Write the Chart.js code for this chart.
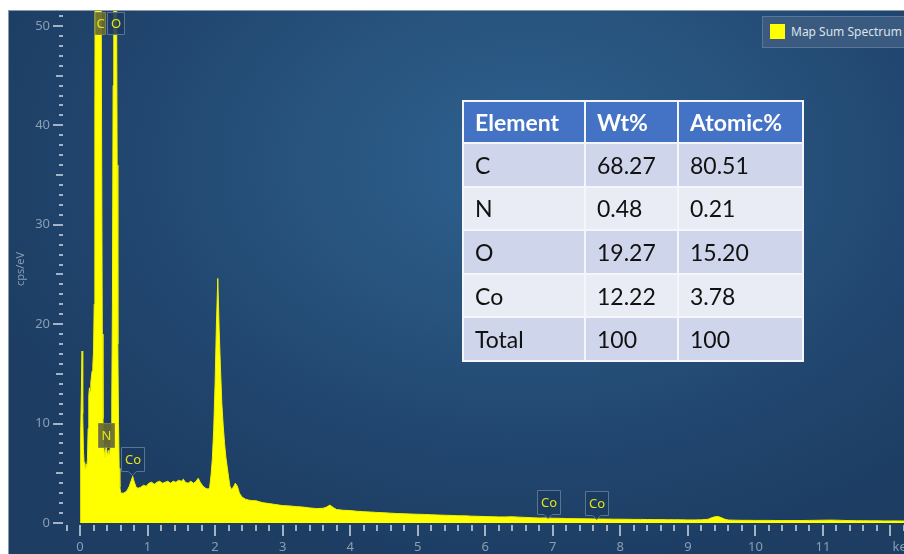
<!DOCTYPE html>
<html>
<head>
  <title>Map Sum Spectrum</title>
  <script src="https://cdn.jsdelivr.net/npm/chart.js"></script>
  <style>
    body {
      margin: 0;
      width: 904px;
      height: 554px;
      overflow: hidden;
      position: relative;
      background: #fff;
      font-family: 'Noto Sans', sans-serif;
    }
    #panel {
      position: absolute;
      left: 8px;
      top: 10px;
      width: 896px;
      height: 544px;
      box-sizing: border-box;
      border-left: 1px solid #8a9aae;
      border-top: 1px solid #8a9aae;
      background: radial-gradient(ellipse 65% 75% at 58% 28%, #2e6090 0%, #28557f 35%, #21466f 70%, #1d3d63 100%);
    }
    #spectrum {
      position: absolute;
      left: 0;
      top: 0;
    }
    .legend {
      position: absolute;
      left: 762px;
      top: 16px;
      width: 150px;
      height: 32px;
      box-sizing: border-box;
      background: #3a5b7f;
      border: 1px solid #58779a;
      color: #dce3eb;
      font-size: 12px;
    }
    .legend .swatch {
      position: absolute;
      left: 7px;
      top: 7px;
      width: 15px;
      height: 15px;
    }
    .legend .name {
      position: absolute;
      left: 28px;
      top: 7px;
      line-height: 16px;
      white-space: nowrap;
    }
    #composition {
      position: absolute;
      left: 462px;
      top: 100px;
      width: 340px;
      table-layout: fixed;
      border-collapse: collapse;
      font-family: Lato, sans-serif;
      font-size: 23px;
      color: #111;
    }
    #composition th, #composition td {
      border: 2px solid #f4f6fb;
      padding: 0 0 0 11px;
      text-align: left;
    }
    #composition th {
      background: #4472c4;
      color: #fff;
      font-weight: bold;
      height: 40px;
    }
    #composition td { height: 41.6px; }
    #composition tbody tr:nth-child(odd) td { background: #cfd5ea; }
    #composition tbody tr:nth-child(even) td { background: #e9ebf5; }
  </style>
</head>
<body>

  <div id="panel"></div>
  <canvas id="spectrum" width="904" height="554"></canvas>
  <div class="legend" id="legend"></div>
  <table id="composition">
    <colgroup><col style="width:122px"><col style="width:93px"><col style="width:125px"></colgroup>
    <thead></thead>
    <tbody></tbody>
  </table>

  <script>
    // Spectrum: energy (keV) and intensity (cps/eV)
    const energy = [
      0.00, 0.01, 0.02, 0.03, 0.04, 0.05, 0.06, 0.07, 0.08, 0.09,
      0.10, 0.11, 0.12, 0.13, 0.14, 0.15, 0.16, 0.17, 0.18, 0.19,
      0.20, 0.21, 0.22, 0.23, 0.24, 0.25, 0.26, 0.27, 0.28, 0.29,
      0.30, 0.31, 0.32, 0.33, 0.34, 0.35, 0.36, 0.37, 0.38, 0.39,
      0.40, 0.41, 0.42, 0.43, 0.44, 0.45, 0.46, 0.47, 0.48, 0.49,
      0.50, 0.51, 0.52, 0.53, 0.54, 0.55, 0.56, 0.57, 0.58, 0.59,
      0.60, 0.62, 0.64, 0.67, 0.70, 0.73, 0.76, 0.78, 0.80, 0.83,
      0.86, 0.90, 0.94, 0.98, 1.02, 1.06, 1.10, 1.14, 1.18, 1.22,
      1.26, 1.30, 1.34, 1.38, 1.42, 1.46, 1.50, 1.53, 1.56, 1.60,
      1.64, 1.68, 1.72, 1.75, 1.78, 1.82, 1.86, 1.90, 1.92, 1.94,
      1.96, 1.98, 2.00, 2.02, 2.04, 2.06, 2.08, 2.10, 2.12, 2.14,
      2.16, 2.18, 2.20, 2.22, 2.24, 2.27, 2.30, 2.33, 2.36, 2.40,
      2.45, 2.50, 2.55, 2.60, 2.70, 2.80, 2.90, 3.00, 3.10, 3.20,
      3.30, 3.40, 3.50, 3.60, 3.65, 3.70, 3.75, 3.80, 3.90, 4.00,
      4.10, 4.20, 4.30, 4.40, 4.50, 4.60, 4.70, 4.80, 4.90, 5.00,
      5.10, 5.20, 5.30, 5.40, 5.50, 5.60, 5.70, 5.80, 5.90, 6.00,
      6.10, 6.20, 6.30, 6.40, 6.50, 6.60, 6.70, 6.80, 6.90, 7.00,
      7.10, 7.20, 7.30, 7.40, 7.50, 7.60, 7.70, 7.80, 7.90, 8.00,
      8.10, 8.20, 8.30, 8.40, 8.50, 8.60, 8.70, 8.80, 8.90, 9.00,
      9.10, 9.20, 9.30, 9.35, 9.40, 9.45, 9.50, 9.55, 9.60, 9.70,
      9.80, 9.90, 10.0, 10.1, 10.2, 10.3, 10.4, 10.5, 10.6, 10.7,
      10.8, 10.9, 11.0, 11.1, 11.2, 11.3, 11.4, 11.5, 11.6, 11.7,
      11.8, 11.9, 12.0, 12.1, 12.2
    ];
    const counts = [
      0, 9.0, 13.0, 17.3, 11.0, 7.5, 6.1, 5.6, 5.3, 5.9,
      5.6, 6.4, 9.5, 12.8, 13.6, 13.2, 14.1, 14.8, 15.3, 15.9,
      17.2, 22, 41, 78, 105, 118, 124, 126, 122, 108,
      86, 62, 38, 19, 10.5, 7.8, 7.1, 6.6, 7.4, 7.9,
      7.0, 6.8, 7.3, 6.9, 7.2, 7.6, 8.8, 12, 22, 44,
      66, 78, 82, 74, 56, 36, 18, 10, 5.5, 3.6,
      3.1, 3.0, 3.0, 3.1, 3.3, 3.7, 4.3, 4.7, 4.2, 3.6,
      3.5, 3.6, 3.8, 3.7, 4.0, 4.1, 3.9, 4.1, 4.2, 4.0,
      4.1, 4.2, 4.0, 4.2, 4.1, 4.3, 4.2, 4.4, 4.1, 4.0,
      4.2, 4.0, 4.2, 4.5, 4.1, 3.7, 3.5, 3.4, 3.6, 4.8,
      6.5, 9.5, 14, 20, 24.6, 19.5, 15.5, 12, 9.8, 8.0,
      6.6, 5.6, 4.6, 3.7, 3.4, 3.6, 4.0, 3.7, 3.0, 2.6,
      2.4, 2.3, 2.25, 2.25, 2.05, 1.95, 1.85, 1.75, 1.72, 1.65,
      1.6, 1.52, 1.45, 1.48, 1.6, 1.8, 1.55, 1.35, 1.28, 1.25,
      1.18, 1.14, 1.1, 1.06, 1.03, 0.99, 0.95, 0.93, 0.9, 0.88,
      0.86, 0.83, 0.8, 0.78, 0.76, 0.73, 0.72, 0.69, 0.67, 0.65,
      0.63, 0.61, 0.61, 0.63, 0.59, 0.56, 0.53, 0.5, 0.51, 0.48,
      0.47, 0.45, 0.44, 0.43, 0.42, 0.41, 0.4, 0.39, 0.38, 0.38,
      0.37, 0.36, 0.36, 0.35, 0.34, 0.34, 0.33, 0.33, 0.32, 0.31,
      0.31, 0.32, 0.38, 0.52, 0.63, 0.65, 0.52, 0.37, 0.3, 0.28,
      0.27, 0.27, 0.26, 0.26, 0.26, 0.25, 0.25, 0.25, 0.25, 0.25,
      0.26, 0.27, 0.28, 0.29, 0.28, 0.26, 0.24, 0.23, 0.23, 0.22,
      0.22, 0.21, 0.21, 0.21, 0.2
    ];

    // Element line markers: label and line energy (keV)
    const markerNames = ['C', 'O', 'N', 'Co', 'Co', 'Co'];
    const markerEnergy = [0.277, 0.525, 0.392, 0.776, 6.93, 7.65];

    // Quantification table
    const tableHeader = ['Element', 'Wt%', 'Atomic%'];
    const elements = ['C', 'N', 'O', 'Co', 'Total'];
    const wtPercent = ['68.27', '0.48', '19.27', '12.22', '100'];
    const atomicPercent = ['80.51', '0.21', '15.20', '3.78', '100'];

    const xLabels = [0, 1, 2, 3, 4, 5, 6, 7, 8, 9, 10, 11];
    const yLabels = [0, 10, 20, 30, 40, 50];

    const tickColor = '#a3b3c6';
    const labelColor = '#8b9db3';
    const markerText = '#e4e41c';

    // ticks, tick labels and axis titles drawn against the library scales
    const axisDecor = {
      id: 'axisDecor',
      afterDraw(chart) {
        const { ctx, scales: { x, y } } = chart;
        ctx.save();
        ctx.fillStyle = tickColor;
        for (let v = 0; v <= 51; v++) {
          const py = Math.round(y.getPixelForValue(v));
          const len = v % 10 === 0 ? 10 : (v % 5 === 0 ? 7 : 4);
          ctx.fillRect(63 - len, py - 1, len, 2);
        }
        for (let i = -1; i <= 61; i++) {
          const px = Math.round(x.getPixelForValue(i * 0.2));
          const major = i % 5 === 0;
          ctx.fillRect(px - 1, 525, 2, major ? 11 : 6);
        }

        ctx.fillStyle = labelColor;
        ctx.font = '13px "Noto Sans"';
        ctx.textAlign = 'right';
        ctx.textBaseline = 'middle';
        yLabels.forEach(v => ctx.fillText(String(v), 50, y.getPixelForValue(v)));
        ctx.textAlign = 'center';
        xLabels.forEach(v => ctx.fillText(String(v), x.getPixelForValue(v), 547));
        ctx.textAlign = 'left';
        ctx.fillText('keV', x.getPixelForValue(12) + 2, 547);

        ctx.font = '11px "Noto Sans"';
        ctx.translate(21, 269);
        ctx.rotate(-Math.PI / 2);
        ctx.textAlign = 'center';
        ctx.fillText('cps/eV', 0, 0);
        ctx.restore();
      }
    };

    // element markers above the peaks
    const lineMarkers = {
      id: 'lineMarkers',
      afterDatasetsDraw(chart) {
        const { ctx, scales: { x } } = chart;
        // box geometry for each marker: width, top, height, pointer, olive fill
        const boxes = [
          { w: 10, top: 12, h: 22, tip: false, olive: true },
          { w: 17, top: 12, h: 22, tip: false, olive: false },
          { w: 16, top: 423, h: 24, tip: false, olive: true },
          { w: 23, top: 447, h: 24, tip: true, olive: false },
          { w: 23, top: 490, h: 24, tip: true, olive: false },
          { w: 23, top: 491, h: 24, tip: true, olive: false }
        ];
        ctx.save();
        markerNames.forEach((name, i) => {
          const b = boxes[i];
          const cx = x.getPixelForValue(markerEnergy[i]) + (i === 0 ? 1 : 0);
          const left = Math.round(cx - b.w / 2) + 0.5;
          const top = b.top + 0.5;
          ctx.beginPath();
          ctx.moveTo(left, top);
          ctx.lineTo(left + b.w, top);
          ctx.lineTo(left + b.w, top + b.h);
          if (b.tip) {
            ctx.lineTo(cx + 4, top + b.h);
            ctx.lineTo(cx, top + b.h + 4);
            ctx.lineTo(cx - 4, top + b.h);
          }
          ctx.lineTo(left, top + b.h);
          ctx.closePath();
          ctx.fillStyle = b.olive ? 'rgba(104,106,52,0.92)' : 'rgba(28,58,94,0.88)';
          ctx.fill();
          ctx.strokeStyle = b.olive ? 'rgba(130,132,80,0.9)' : '#5a7591';
          ctx.lineWidth = 1;
          ctx.stroke();
          ctx.fillStyle = markerText;
          ctx.font = '13px "Noto Sans"';
          ctx.textAlign = 'center';
          ctx.textBaseline = 'middle';
          ctx.fillText(name, left + b.w / 2, top + b.h / 2 + 1);
        });
        ctx.restore();
      }
    };

    const spectrum = energy.map((e, i) => ({ x: e, y: counts[i] }));

    const chart = new Chart(document.getElementById('spectrum'), {
      type: 'line',
      data: {
        datasets: [{
          label: 'Map Sum Spectrum',
          data: spectrum,
          borderColor: '#f2f200',
          borderWidth: 1,
          backgroundColor: '#ffff00',
          fill: 'origin',
          pointRadius: 0,
          tension: 0
        }]
      },
      options: {
        responsive: false,
        animation: false,
        layout: { padding: { left: 66.5, top: 11, right: 0, bottom: 31 } },
        plugins: { legend: { display: false }, tooltip: { enabled: false } },
        scales: {
          x: { type: 'linear', min: -0.2, max: 12.2, display: false },
          y: { min: 0, max: 51.5, display: false }
        }
      },
      plugins: [axisDecor, lineMarkers]
    });

    // legend from the dataset
    const legend = document.getElementById('legend');
    chart.data.datasets.forEach(ds => {
      const sw = document.createElement('span');
      sw.className = 'swatch';
      sw.style.background = ds.backgroundColor;
      const nm = document.createElement('span');
      nm.className = 'name';
      nm.textContent = ds.label;
      legend.appendChild(sw);
      legend.appendChild(nm);
    });

    // composition table
    const table = document.getElementById('composition');
    const head = document.createElement('tr');
    tableHeader.forEach(h => {
      const th = document.createElement('th');
      th.textContent = h;
      head.appendChild(th);
    });
    table.tHead.appendChild(head);
    elements.forEach((el, i) => {
      const tr = document.createElement('tr');
      [el, wtPercent[i], atomicPercent[i]].forEach(v => {
        const td = document.createElement('td');
        td.textContent = v;
        tr.appendChild(td);
      });
      table.tBodies[0].appendChild(tr);
    });
  </script>

</body>
</html>
